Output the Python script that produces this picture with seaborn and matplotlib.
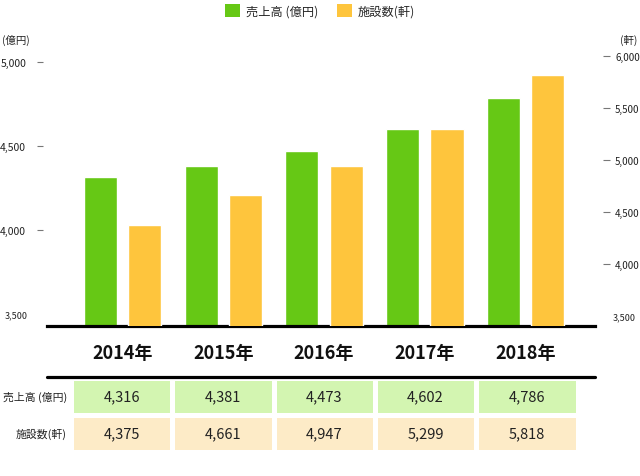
import matplotlib
matplotlib.use('Agg')
import matplotlib.pyplot as plt
import seaborn as sns
import pandas as pd
import numpy as np
from matplotlib.patches import Patch
from matplotlib.lines import Line2D
from matplotlib.colors import ListedColormap

# ---- data ----
years = ['2014年', '2015年', '2016年', '2017年', '2018年']
sales = [4316, 4381, 4473, 4602, 4786]
facilities = [4375, 4661, 4947, 5299, 5818]
series_names = ['売上高 (億円)', '施設数(軒)']
row_labels = ['売上高 (億円)', '施設数(軒)']
left_ticks = [4000, 4500, 5000]
right_ticks = [4000, 4500, 5000, 5500, 6000]
base_tick = 3500

green = '#66C815'
yellow = '#FEC53D'
green_light = '#D3F5B1'
yellow_light = '#FDEBC7'

sns.set_theme(style='white')
plt.rcParams['font.family'] = ['Noto Sans CJK JP', 'DejaVu Sans']

W, H = 640, 477
fig = plt.figure(figsize=(6.4, 4.77), dpi=100)


def rect(x0, y0, x1, y1):
    return [x0 / W, 1 - y1 / H, (x1 - x0) / W, (y1 - y0) / H]


ax = fig.add_axes(rect(47, 57, 595, 327))
ax2 = ax.twinx()

df = pd.DataFrame({
    'year': years * 2,
    'value': sales + facilities,
    'series': [series_names[0]] * len(years) + [series_names[1]] * len(years),
})
palette = {series_names[0]: green, series_names[1]: yellow}

sns.barplot(data=df[df.series == series_names[0]], x='year', y='value',
            hue='series', hue_order=series_names, order=years, palette=palette,
            dodge=True, width=0.88, gap=0.25, saturation=1, ax=ax, legend=False,
            errorbar=None)
sns.barplot(data=df[df.series == series_names[1]], x='year', y='value',
            hue='series', hue_order=series_names, order=years, palette=palette,
            dodge=True, width=0.88, gap=0.25, saturation=1, ax=ax2, legend=False,
            errorbar=None)

for a in (ax, ax2):
    a.set_xlim(-0.75, 4.69)
    a.set_xlabel('')
    a.set_ylabel('')
    a.grid(False)
    for s in ('top', 'left', 'right', 'bottom'):
        a.spines[s].set_visible(False)

ax.spines['bottom'].set_visible(True)
ax.spines['bottom'].set_color('black')
ax.spines['bottom'].set_linewidth(2.3)

ax.set_ylim(3429, 5036)
ax2.set_ylim(3404, 6000)

# left axis ticks
ax.set_yticks(left_ticks, labels=[f'{v:,}' for v in left_ticks])
ax.set_yticks([base_tick], labels=[f'{base_tick:,}'], minor=True)
ax.spines['left'].set_position(('outward', 3))
ax.tick_params(axis='y', which='major', left=True, length=4, width=0.8,
               color='#777777', pad=8, labelsize=7.5, labelcolor='#222222')
ax.tick_params(axis='y', which='minor', left=True, length=0, pad=11,
               labelsize=6.5, labelcolor='#222222')

# right axis ticks
ax2.set_yticks(right_ticks, labels=[f'{v:,}' for v in right_ticks])
ax2.set_yticks([base_tick], labels=[f'{base_tick:,}'], minor=True)
ax2.spines['right'].set_position(('outward', 6))
ax2.tick_params(axis='y', which='major', right=True, length=5, width=0.8,
                color='#777777', pad=3.5, labelsize=7, labelcolor='#222222')
ax2.tick_params(axis='y', which='minor', right=True, length=0, pad=7,
                labelsize=6.5, labelcolor='#222222')

# x labels (years)
ax.tick_params(axis='x', length=0, pad=12, labelsize=13)
for lab in ax.get_xticklabels():
    lab.set_fontweight('bold')
    lab.set_color('#111111')
ax2.tick_params(axis='x', length=0, labelbottom=False)

# second black rule
fig.add_artist(Line2D([47 / W, 595 / W], [1 - 377.5 / H] * 2, color='black', lw=2.3))

# table via heatmap
tax = fig.add_axes(rect(71, 378.5, 577.5, 453))
codes = np.array([[0] * len(years), [1] * len(years)])
annot = np.array([[f'{v:,}' for v in sales], [f'{v:,}' for v in facilities]])
sns.heatmap(codes, ax=tax, cmap=ListedColormap([green_light, yellow_light]),
            vmin=0, vmax=1, annot=annot, fmt='', cbar=False,
            linewidths=2.5, linecolor='white',
            annot_kws={'fontsize': 10.5, 'color': '#222222'},
            xticklabels=False, yticklabels=row_labels)
tax.tick_params(axis='y', length=0, pad=3, labelsize=7.8, labelcolor='#222222')
for lab in tax.get_yticklabels():
    lab.set_rotation(0)

# unit labels
fig.text(2 / W, 1 - 40 / H, '(億円)', fontsize=7.5, va='center', ha='left', color='#222222')
fig.text(637 / W, 1 - 40 / H, '(軒)', fontsize=7.5, va='center', ha='right', color='#222222')

# legend
handles = [Patch(facecolor=green, edgecolor='none'), Patch(facecolor=yellow, edgecolor='none')]
fig.legend(handles, series_names, loc='center', bbox_to_anchor=(0.5, 1 - 11.5 / H),
           ncol=2, frameon=False, fontsize=8.8, handlelength=1.25, handleheight=1.25,
           handletextpad=0.5, columnspacing=1.5, borderpad=0)

fig.savefig('out.png', dpi=100)
